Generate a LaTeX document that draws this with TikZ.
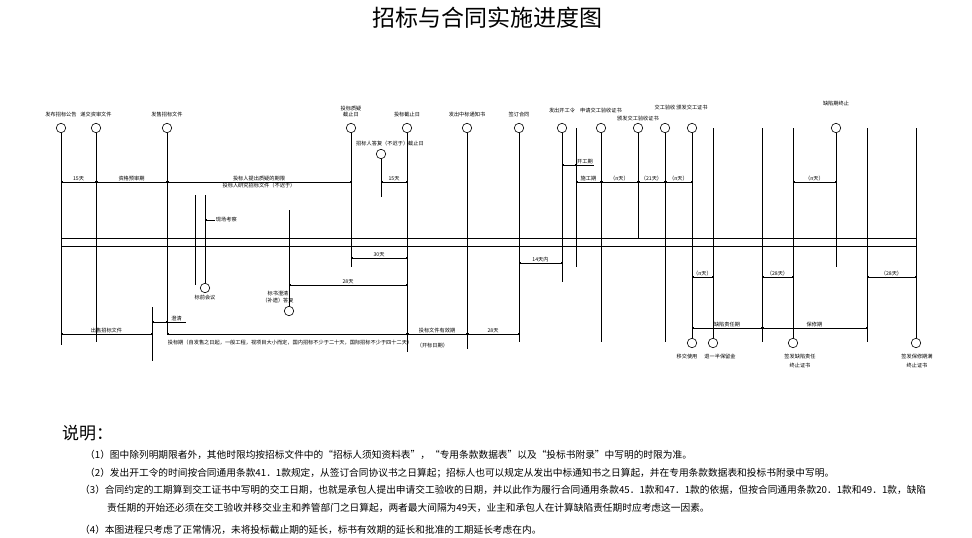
\documentclass[tikz,border=0pt]{standalone}
\usepackage{fontspec}
\newfontfamily\cjk{Noto Sans CJK SC}
\usepackage{tikz}
\usetikzlibrary{positioning,arrows.meta}
\tikzset{
  % --- events ----------------------------------------------------------------
  evt/.style={circle,draw,line width=0.6pt,minimum size=9.5pt,inner sep=0pt},
  lab/.style={font=\cjk\fontsize{5.2}{6.3}\selectfont,inner sep=0.6pt,
              align=center},
  % --- lines and periods -----------------------------------------------------
  vline/.style={line width=0.8pt},
  lead/.style={line width=0.6pt},
  dim/.style={{Square[length=1.5pt,width=1.5pt]}-{Square[length=1.5pt,width=1.5pt]},
              line width=0.7pt},
  dlab/.style={lab,midway,above},
  note/.style={font=\cjk\fontsize{9.7}{11}\selectfont,anchor=west,inner sep=0pt},
}

\begin{document}
\begin{tikzpicture}[x=1pt,y=-1pt]
  \path[use as bounding box] (0,0) rectangle (972,538);

  \node[font=\cjk\fontsize{23}{26}\selectfont] (title) at (487,18)
    {招标与合同实施进度图};

  % top events
  \node[evt] (fb)  at (61,128)  {};
  \node[evt] (dj)  at (96,128)  {};
  \node[evt] (fs)  at (167,128) {};
  \node[evt] (zy)  at (351,128) {};
  \node[evt] (df)  at (381,154) {};
  \node[evt] (jz)  at (407,128) {};
  \node[evt] (zb)  at (467,128) {};
  \node[evt] (qy)  at (519,128) {};
  \node[evt] (kgl) at (562,128) {};
  \node[evt] (sq)  at (601,128) {};
  \node[evt] (yj)  at (638,128) {};
  \node[evt] (ys)  at (665,128) {};
  \node[evt] (jgz) at (692,128) {};
  \node[evt] (qxm) at (836,128) {};
  % lower events
  \node[evt] (bq)  at (205,288) {};
  \node[evt] (cq)  at (289,311) {};
  \node[evt] (yjg) at (692,343) {};
  \node[evt] (tbl) at (713,343) {};
  \node[evt] (qxz) at (793,343) {};
  \node[evt] (bxz) at (916,343) {};

  \node[lab,above=5pt of fb]  {发布招标公告};
  \node[lab,above=5pt of dj]  {递交资审文件};
  \node[lab,above=5pt of fs]  {发售招标文件};
  \node[lab,above=5pt of zy]  {投标质疑\\截止日};
  \node[lab,above=2.5pt of df,xshift=9pt] {招标人答复（不迟于）截止日};
  \node[lab,above=5.5pt of jz]  {投标截止日};
  \node[lab,above=5.5pt of zb]  {发出中标通知书};
  \node[lab,above=5.5pt of qy]  {签订合同};
  \node[lab,above=9.5pt of kgl] {发出开工令};
  \node[lab,above=9.5pt of sq]  {申请交工验收证书};
  \node[lab,above=1.5pt of yj]  {颁发交工验收证书};
  \node[lab,above=12.5pt of ys] {交工验收};
  \node[lab,above=12.5pt of jgz] {颁发交工证书};
  \node[lab,above=16.5pt of qxm] {缺陷期终止};

  \node[lab,below=1pt of bq] {标前会议};
  \node[lab,above=2.5pt of cq,xshift=-11pt] {标书澄清\\（补遗）答复};
  \node[lab,below=5pt of yjg,xshift=-5pt] {移交使用};
  \node[lab,below=5pt of tbl,xshift=7pt]  {退一半保留金};
  \node[lab,below=5pt of qxz,xshift=7pt]  {签发缺陷责任\\[2.6pt]终止证书};
  \node[lab,below=5pt of bxz,xshift=1pt]  {签发保修期满\\[2.6pt]终止证书};

  % ends of the time lines
  \coordinate (fb-e)   at (61,345);
  \coordinate (dj-e)   at (96,342);
  \coordinate (fs-e)   at (167,335);
  \coordinate (bk-s)   at (152,307);
  \coordinate (bk-e)   at (152,361);
  \coordinate (kc-s)   at (195,195);
  \coordinate (kc-e)   at (195,285);
  \coordinate (bq-s)   at (205,195);
  \coordinate (cq-s)   at (289,210);
  \coordinate (zy-e)   at (351,267);
  \coordinate (df-e)   at (381,197);
  \coordinate (jz-e)   at (407,352);
  \coordinate (zb-e)   at (467,349);
  \coordinate (qy-e)   at (519,342);
  \coordinate (kgl-e)  at (562,282);
  \coordinate (kg-s)   at (576,128);
  \coordinate (kg-e)   at (576,267);
  \coordinate (sq-e)   at (601,342);
  \coordinate (yj-e)   at (638,238);
  \coordinate (ys-e)   at (665,342);
  \coordinate (v713)   at (713,128);
  \coordinate (v762-s) at (762,128);
  \coordinate (v762-e) at (762,342);
  \coordinate (v793)   at (793,128);
  \coordinate (qxm-e)  at (836,267);
  \coordinate (v867-s) at (867,128);
  \coordinate (v867-e) at (867,342);
  \coordinate (v916)   at (916,128);

  \draw[vline] (fb) -- (fb-e);
  \draw[vline] (dj) -- (dj-e);
  \draw[vline] (fs) -- (fs-e);
  \draw[vline] (bk-s) -- (bk-e);
  \draw[vline] (kc-s) -- (kc-e);
  \draw[vline] (bq-s) -- (bq);
  \draw[vline] (cq-s) -- (cq);
  \draw[vline] (zy) -- (zy-e);
  \draw[vline] (df) -- (df-e);
  \draw[vline] (jz) -- (jz-e);
  \draw[vline] (zb) -- (zb-e);
  \draw[vline] (qy) -- (qy-e);
  \draw[vline] (kgl) -- (kgl-e);
  \draw[vline] (kg-s) -- (kg-e);
  \draw[vline] (sq) -- (sq-e);
  \draw[vline] (yj) -- (yj-e);
  \draw[vline] (ys) -- (ys-e);
  \draw[vline] (jgz) -- (yjg);
  \draw[vline] (v713) -- (tbl);
  \draw[vline] (v762-s) -- (v762-e);
  \draw[vline] (v793) -- (qxz);
  \draw[vline] (qxm) -- (qxm-e);
  \draw[vline] (v867-s) -- (v867-e);
  \draw[vline] (v916) -- (bxz);

  % rows of the periods
  \coordinate (rt) at (0,165);
  \coordinate (ra) at (0,182);
  \coordinate (h1) at (0,238);
  \coordinate (h2) at (0,246);
  \coordinate (rb) at (0,258);
  \coordinate (rc) at (0,263);
  \coordinate (rd) at (0,277);
  \coordinate (re) at (0,285);
  \coordinate (rf) at (0,322);
  \coordinate (rg) at (0,328);
  \coordinate (rk) at (0,334);

  \draw[vline] (fb |- h1) -- (v916 |- h1);
  \draw[vline] (fb |- h2) -- (v916 |- h2);

  \draw[dim] (fb |- ra) -- (dj |- ra) node[dlab] {15天};
  \draw[dim] (dj |- ra) -- (fs |- ra) node[dlab] {资格预审期};
  \draw[dim] (fs |- ra) -- (zy |- ra) node[dlab] {投标人提出质疑的期限}
    node[lab,midway,below] {投标人研究招标文件（不迟于）};
  \draw[dim] (df |- ra) -- (jz |- ra) node[dlab] {15天};
  \draw[dim] (kg-s |- ra) -- (sq |- ra) node[dlab] {施工期};
  \draw[dim] (sq |- ra) -- (yj |- ra) node[dlab] {（n天）};
  \draw[dim] (yj |- ra) -- (ys |- ra) node[dlab] {（21天）};
  \draw[dim] (ys |- ra) -- (jgz |- ra) node[dlab] {（n天）};
  \draw[dim] (v793 |- ra) -- (qxm |- ra) node[dlab] {（n天）};

  \coordinate (kq) at (594,165);
  \draw[dim] (kgl |- rt) -- (kg-s |- rt);
  \draw[lead] (kg-s |- rt) -- (kq) node[dlab] {开工期};

  \coordinate (xc) at (215,220);
  \draw[lead,{Square[length=1.5pt,width=1.5pt]}-] (bq-s |- xc) -- (xc)
    node[lab,right] {现场考察};

  \draw[dim] (zy |- rb) -- (jz |- rb) node[dlab] {30天};
  \draw[dim] (qy |- rc) -- (kgl |- rc) node[dlab] {14天内};
  \draw[dim] (jgz |- rd) -- (v713 |- rd) node[dlab] {（n天）};
  \draw[dim] (v762-s |- rd) -- (v793 |- rd) node[dlab] {（28天）};
  \draw[dim] (v867-s |- rd) -- (v916 |- rd) node[dlab] {（28天）};
  \draw[dim] (cq |- re) -- (jz |- re) node[dlab] {28天};

  \coordinate (cl) at (186,322);
  \draw[dim] (bk-s |- rf) -- (fs |- rf);
  \draw[lead] (fs |- rf) -- (cl) node[dlab] {澄清};

  \draw[dim] (jgz |- rg) -- (v762-s |- rg) node[dlab] {缺陷责任期};
  \draw[dim] (v762-s |- rg) -- (v867-s |- rg) node[dlab] {保修期};

  \draw[dim] (fb |- rk) -- (bk-s |- rk) node[dlab] {出售招标文件};
  \draw[dim] (fs |- rk) -- (jz |- rk);
  \draw[dim] (jz |- rk) -- (zb |- rk) node[dlab] {投标文件有效期};
  \draw[dim] (zb |- rk) -- (qy |- rk) node[dlab] {28天};
  \node[lab,anchor=north west,yshift=-5pt] (tbq) at (fs |- rk)
    {投标期（自发售之日起，一般工程，视项目大小而定，国内招标不少于二十天，国际招标不少于四十二天）};
  \node[lab,right=3pt of tbq,yshift=-3pt] {（开标日期）};

  % notes
  \node[font=\cjk\fontsize{17}{20}\selectfont,anchor=west,inner sep=0pt] (sm)
    at (62,433) {说明：};
  \node[note] (n1) at (85,455)
    {（1）图中除列明期限者外，其他时限均按招标文件中的“招标人须知资料表”，“专用条款数据表”以及“投标书附录”中写明的时限为准。};
  \node[note] (n2) at (85,473)
    {（2）发出开工令的时间按合同通用条款41．1款规定，从签订合同协议书之日算起；招标人也可以规定从发出中标通知书之日算起，并在专用条款数据表和投标书附录中写明。};
  \node[note] (n3) at (80,490)
    {（3）合同约定的工期算到交工证书中写明的交工日期，也就是承包人提出申请交工验收的日期，并以此作为履行合同通用条款45．1款和47．1款的依据，但按合同通用条款20．1款和49．1款，缺陷};
  \node[note] (n3b) at (107,508)
    {责任期的开始还必须在交工验收并移交业主和养管部门之日算起，两者最大间隔为49天，业主和承包人在计算缺陷责任期时应考虑这一因素。};
  \node[note] (n4) at (80,530)
    {（4）本图进程只考虑了正常情况，未将投标截止期的延长，标书有效期的延长和批准的工期延长考虑在内。};
\end{tikzpicture}
\end{document}
